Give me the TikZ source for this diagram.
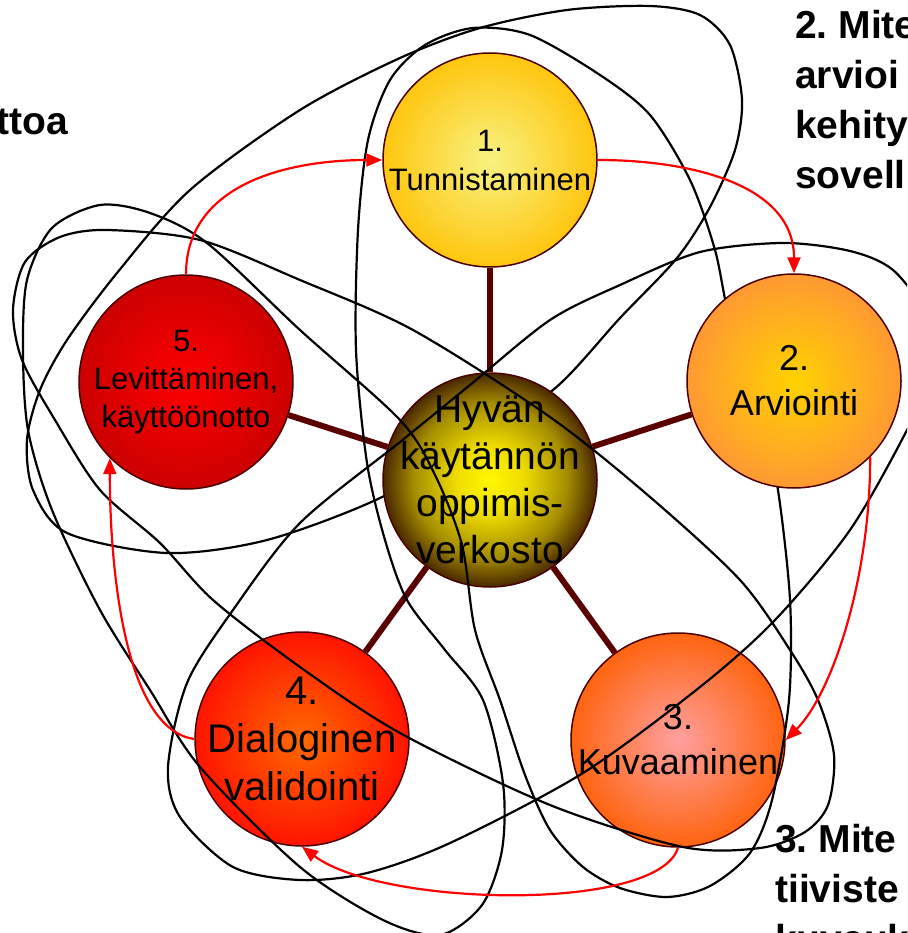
\documentclass[tikz,border=0pt]{standalone}
\usepackage{fontspec}
\setmainfont{Liberation Sans}
\usetikzlibrary{arrows.meta, backgrounds}
\tikzset{>=stealth}

\definecolor{rim}{HTML}{4A0000}
\definecolor{spokered}{HTML}{5A0000}
\definecolor{hubA}{HTML}{FFF800}
\definecolor{hubB}{HTML}{EEDC00}
\definecolor{hubC}{HTML}{A48C00}
\definecolor{hubD}{HTML}{4A2800}
\definecolor{oneA}{HTML}{F8F282}
\definecolor{oneB}{HTML}{FFC60F}
\definecolor{twoA}{HTML}{FFD200}
\definecolor{twoB}{HTML}{FF9933}
\definecolor{threeA}{HTML}{FFA0A0}
\definecolor{threeB}{HTML}{FF6410}
\definecolor{fourA}{HTML}{FF6A00}
\definecolor{fourB}{HTML}{FF1400}
\definecolor{fiveA}{HTML}{FF0000}
\definecolor{fiveB}{HTML}{CC0000}

\pgfdeclareradialshading{hubfill}{\pgfpoint{0bp}{0bp}}{color(0bp)=(hubA); color(8bp)=(hubB); color(18bp)=(hubC); color(25bp)=(hubD); color(50bp)=(hubD)}
\pgfdeclareradialshading{onefill}{\pgfpoint{0bp}{0bp}}{color(0bp)=(oneA); color(25bp)=(oneB); color(50bp)=(oneB)}
\pgfdeclareradialshading{twofill}{\pgfpoint{0bp}{0bp}}{color(0bp)=(twoA); color(25bp)=(twoB); color(50bp)=(twoB)}
\pgfdeclareradialshading{threefill}{\pgfpoint{0bp}{0bp}}{color(0bp)=(threeA); color(25bp)=(threeB); color(50bp)=(threeB)}
\pgfdeclareradialshading{fourfill}{\pgfpoint{0bp}{0bp}}{color(0bp)=(fourA); color(25bp)=(fourB); color(50bp)=(fourB)}
\pgfdeclareradialshading{fivefill}{\pgfpoint{0bp}{0bp}}{color(0bp)=(fiveA); color(25bp)=(fiveB); color(50bp)=(fiveB)}

\tikzset{
    ball/.style = {circle, shade, draw = rim, line width = 1.5pt, minimum size = 214pt, inner sep = 0pt},
    spoke/.style = {spokered, line width = 6pt},
    ring/.style = {black, line width = 2.2pt},
    flow/.style = {-{Triangle[length=16pt, width=13pt]}, red, line width = 2.2pt},
    note/.style = {font = \fontsize{39}{50}\selectfont\bfseries, align = left, inner sep = 0pt},
    lbl/.style = {align = center, inner sep = 0pt}
}

\begin{document}
\begin{tikzpicture}[x = 1pt, y = -1pt]
    \useasboundingbox (0,0) rectangle (907,933);
    \clip (0,0) rectangle (907,933);

    \node [note, anchor = base east] (q1) at (68,135) {ttoa};
    \node [note, anchor = north west] (q2) at (795,10) {2.\ Mite\\arvioi\\kehity\\sovell};
    \node [note, anchor = north west] (q3) at (775,824) {3.\ Mite\\tiiviste\\kuvauk};

    \draw [ring] plot [smooth cycle] coordinates {(650,6) (700,15) (730,45) (742,100) (735,150) (710,207) (677,258) (620,318) (553,390) (465,445) (380,498) (267,540) (167,553) (67,533) (33,490) (27,440) (40,390) (67,340) (117,273) (190,190) (300,110) (400,58) (480,28) (567,10)};

    \node [ball, shading = hubfill] (hub) at (490,480) {};
    \node [ball, shading = threefill] (c3) at (678,740) {};
    \node [ball, shading = fourfill] (c4) at (302,739) {};
    \node [lbl, font = \fontsize{39}{47}\selectfont] (thub) at (hub) {Hyvän\\käytännön\\oppimis-\\verkosto};
    \node [lbl, font = \fontsize{36}{45}\selectfont] (t3) at (c3) {3.\\Kuvaaminen};
    \node [lbl, font = \fontsize{40}{48}\selectfont] (t4) at (c4) {4.\\Dialoginen\\validointi};

    \draw [ring] plot [smooth cycle] coordinates {(783,243) (850,251) (893,270) (925,315) (930,375) (907,430) (850,530) (775,620) (700,687) (583,773) (450,843) (367,873) (300,880) (233,867) (180,817) (168,767) (187,683) (233,610) (300,523) (400,442) (470,385) (550,320) (620,285) (700,252)};
    \draw [ring] plot [smooth cycle] coordinates {(107,230) (200,240) (300,280) (413,330) (550,417) (650,497) (740,580) (790,650) (818,700) (834,755) (828,805) (805,832) (760,848) (683,847) (550,805) (400,733) (300,667) (213,600) (160,543) (100,490) (55,420) (22,360) (13,310) (25,262) (60,237)};
    \draw [ring] plot [smooth cycle] coordinates {(473,28) (530,35) (600,75) (650,115) (690,180) (715,250) (730,320) (760,400) (778,490) (790,600) (789,700) (772,800) (750,853) (710,886) (667,897) (620,888) (583,867) (550,830) (525,775) (500,700) (475,630) (462,545) (435,475) (400,420) (300,330) (207,243) (150,213) (100,205) (52,228) (27,280) (23,350) (28,430) (52,510) (100,610) (150,690) (200,767) (300,867) (383,920) (440,935) (482,905) (502,850) (503,783) (483,700) (445,650) (407,600) (385,540) (367,463) (356,350) (358,230) (368,140) (390,80) (425,45)};

    \node [ball, shading = onefill] (c1) at (490,160) {};
    \node [ball, shading = twofill] (c2) at (794,381) {};
    \node [ball, shading = fivefill] (c5) at (186,382) {};
    \node [lbl, font = \fontsize{31}{39}\selectfont] (t1) at (c1) {1.\\Tunnistaminen};
    \node [lbl, font = \fontsize{36}{45}\selectfont] (t2) at (c2) {2.\\Arviointi};
    \node [lbl, font = \fontsize{31}{38}\selectfont] (t5) at (c5) {5.\\Levittäminen,\\käyttöönotto};

    \draw [flow] (c5.north) .. controls +(0,-90) and +(-95,0) .. (c1.west);
    \draw [flow] (c1.east) .. controls +(90,0) and +(0,-90) .. (c2.north);
    \draw [flow] (c2.-45) .. controls +(0,125) and +(45,-45) .. (c3.east);
    \draw [flow] (c3.south) .. controls +(-20,65) and +(80,60) .. (c4.south);
    \draw [flow] (c4.west) .. controls +(-70,-10) and +(0,110) .. (c5.225);

    \begin{pgfonlayer}{background}
        \foreach \i in {1,...,5}
        \draw [spoke] (hub) -- (c\i);
    \end{pgfonlayer}
\end{tikzpicture}
\end{document}
